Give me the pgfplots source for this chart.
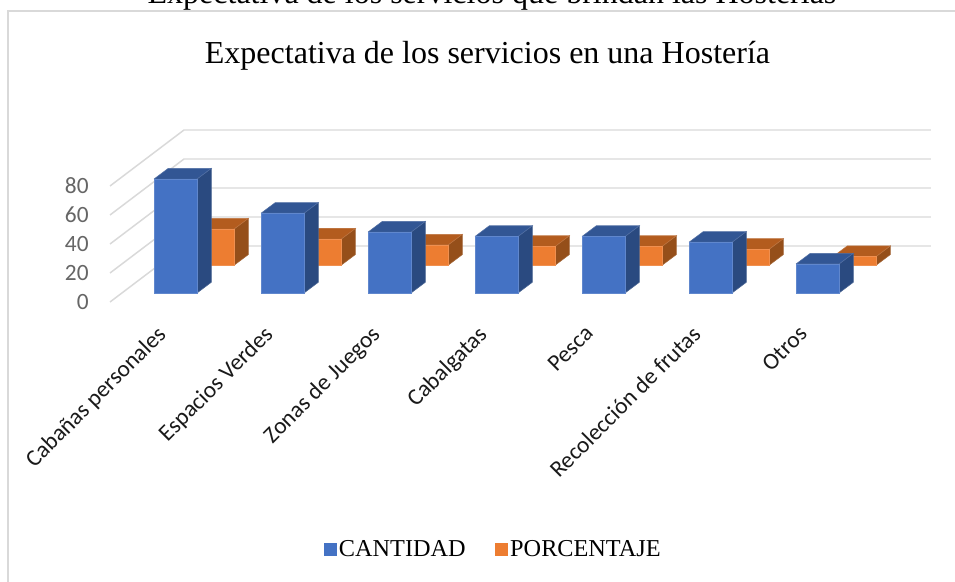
\documentclass[border=0pt]{standalone}
\usepackage{pgfplots}
\usepackage{pgfplotstable}
\usepackage{fontspec}
\pgfplotsset{compat=1.18}
\setmainfont{Liberation Serif}
\newfontfamily\calibri{Carlito}
\definecolor{gridc}{HTML}{D9D9D9}
\definecolor{tickc}{HTML}{666666}
\definecolor{xtickc}{HTML}{1A1A1A}
\definecolor{bluef}{HTML}{4472C4}
\definecolor{bluet}{HTML}{325694}
\definecolor{blues}{HTML}{2A4A80}
\definecolor{oranf}{HTML}{ED7D31}
\definecolor{orant}{HTML}{B35C1E}
\definecolor{orans}{HTML}{954F1A}
\pgfplotstableread{
cat cantidad porcentaje
0 78.6 25
1 55 18
2 42 14
3 39 13
4 39 13
5 35 11
6 20 6
}\datatable
% draw one pseudo-3D bar: #1 category, #2 value, #3 x shift, #4 base y, #5-7 colours
\newcommand{\threedbar}[7]{%
  \pgfmathsetmacro\xa{#1+#3-0.2009}%
  \pgfmathsetmacro\xb{#1+#3+0.2009}%
  \pgfmathsetmacro\xc{\xb+0.1336}%
  \pgfmathsetmacro\xd{\xa+0.1336}%
  \pgfmathsetmacro\ya{#4}%
  \pgfmathsetmacro\yb{#4+#2}%
  \pgfmathsetmacro\yc{\ya+7.38}%
  \pgfmathsetmacro\yd{\yb+7.38}%
  \edef\temp{%
    \noexpand\addplot[forget plot,fill=#7,draw=#7!85!white,line width=0.4pt] coordinates {(\xb,\ya) (\xc,\yc) (\xc,\yd) (\xb,\yb) (\xb,\ya)};
    \noexpand\addplot[forget plot,fill=#6,draw=#6!85!white,line width=0.4pt] coordinates {(\xa,\yb) (\xb,\yb) (\xc,\yd) (\xd,\yd) (\xa,\yb)};
    \noexpand\addplot[forget plot,fill=#5,draw=#5!85!white,line width=0.4pt] coordinates {(\xa,\ya) (\xb,\ya) (\xb,\yb) (\xa,\yb) (\xa,\ya)};
  }\temp
}
\newcommand{\gridlevel}[1]{%
  \pgfmathsetmacro\ga{#1}%
  \pgfmathsetmacro\gb{#1+38.62}%
  \edef\temp{\noexpand\addplot[forget plot,gridc,line width=1.1pt] coordinates {(-0.612,\ga) (0.0794,\gb) (7.06,\gb)};}\temp
}
\begin{document}
\begin{tikzpicture}[x=0.75pt,y=0.75pt]
\path[use as bounding box] (0,0) rectangle (955,581);
\clip (0,0) rectangle (955,581);
\fill[white] (0,0) rectangle (955,581);
\draw[gridc,line width=1.4pt] (8,-5) -- (8,570) -- (960,570);
\node[font=\fontsize{24}{26}\selectfont,anchor=base] at (492,577.5) {Expectativa de los servicios que brindan las Hosterías};
\begin{axis}[
  at={(75pt,203.25pt)},anchor=south west,
  width=630pt,height=150pt,scale only axis,
  clip=false,
  xmin=-0.7056,xmax=7.145,
  ymin=-5.517,ymax=132.41,
  axis line style={draw=none},
  major tick length=0pt,
  xtick={0,1,2,3,4,5,6},
  xticklabels={Cabañas personales,Espacios Verdes,Zonas de Juegos,Cabalgatas,Pesca,Recolección de frutas,Otros},
  x tick label style={font=\calibri\fontsize{17.5}{20}\selectfont,text=xtickc,rotate=45,anchor=north east,xshift=-14.6pt,yshift=6.5pt},
  ytick={0,20,40,60,80},
  y tick label style={font=\calibri\fontsize{17.5}{20}\selectfont,text=tickc,/pgf/number format/assume math mode=true,anchor=east,xshift=-5pt,yshift=0pt},
  title={Expectativa de los servicios en una Hostería},
  title style={font=\fontsize{24}{28}\selectfont,at={(0.4613,1.0)},anchor=base,yshift=29pt},
  legend columns=2,
  legend style={at={(0.4685,-1.195)},anchor=center,draw=none,fill=none,
    font=\fontsize{18.2}{20}\selectfont,/tikz/every even column/.append style={column sep=20pt}},
  legend cell align=left,
]
\pgfplotsinvokeforeach{0,20,40,60,80}{\gridlevel{#1}}
\pgfplotsforeachungrouped \i in {0,...,6}{%
  \pgfplotstablegetelem{\i}{porcentaje}\of\datatable
  \edef\v{\pgfplotsretval}%
  \threedbar{\i}{\v}{0.3458}{25.3}{oranf}{orant}{orans}%
}
\pgfplotsforeachungrouped \i in {0,...,6}{%
  \pgfplotstablegetelem{\i}{cantidad}\of\datatable
  \edef\v{\pgfplotsretval}%
  \threedbar{\i}{\v}{0}{6.2}{bluef}{bluet}{blues}%
}
\addlegendimage{legend image code/.code={\fill[bluef] (-2pt,-4.5pt) rectangle (7pt,4.5pt);}}
\addlegendentry{CANTIDAD}
\addlegendimage{legend image code/.code={\fill[oranf] (-2pt,-4.5pt) rectangle (7pt,4.5pt);}}
\addlegendentry{PORCENTAJE}
\end{axis}
\end{tikzpicture}
\end{document}
